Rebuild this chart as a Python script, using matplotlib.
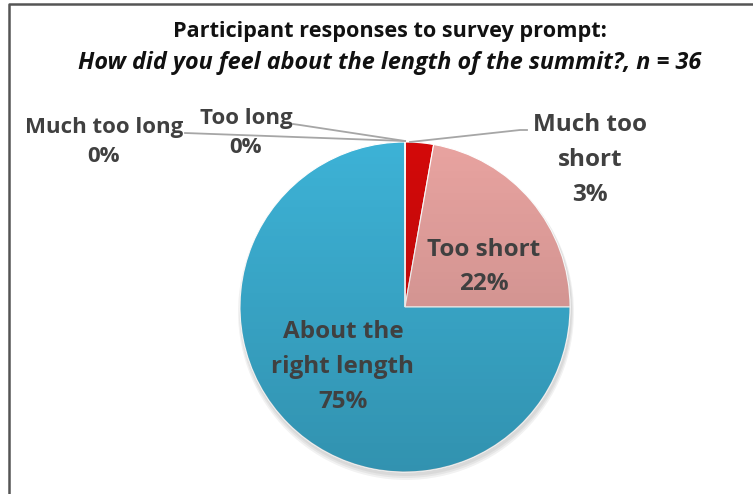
import matplotlib.pyplot as plt
import numpy as np
from matplotlib.patches import Circle

# survey counts, clockwise from 12 o'clock
categories = ["Much too short", "Too short", "About the right length", "Too long", "Much too long"]
counts = [1, 8, 27, 0, 0]
colors = ["#d30a0a", "#e8a3a0", "#3db2d6", "#3db2d6", "#3db2d6"]
n_total = sum(counts)
percents = [int(round(100 * c / n_total)) for c in counts]

W, H = 753, 494
plt.rcParams['font.family'] = ['Open Sans', 'DejaVu Sans']

fig = plt.figure(figsize=(W / 100, H / 100), dpi=100)
ax = fig.add_axes([0, 0, 1, 1])


def py(y):
    # pixel row (top down) -> data y
    return H - y


cx, cy, r = 405, py(307), 165

# soft shadow under the pie
for k in range(3):
    ax.add_patch(Circle((cx + 1, cy - 3 - k), r + 1 + k, color="black", alpha=0.05, lw=0, zorder=1))

wedges, _ = ax.pie(counts, colors=colors, startangle=90, counterclock=False,
                   center=(cx, cy), radius=r, frame=True,
                   wedgeprops=dict(linewidth=0.8, edgecolor="#ffffff"))
for w in wedges:
    w.set_zorder(2)

# darken towards the bottom of the pie
grad = np.linspace(0, 1, 256)[:, None]
shade = np.zeros((256, 1, 4))
shade[..., 3] = 0.18 * grad
im = ax.imshow(shade, extent=(cx - r, cx + r, cy - r, cy + r), origin='upper',
               aspect='auto', zorder=3)
im.set_clip_path(Circle((cx, cy), r, transform=ax.transData))

ax.set_xlim(0, W)
ax.set_ylim(0, H)
ax.set_aspect('equal')
ax.axis('off')

txt = "#404040"
ax.text(390, py(31), "Participant responses to survey prompt:", ha='center', va='center',
        fontsize=15.6, fontweight='bold', color="#111111")
ax.text(390, py(63), "How did you feel about the length of the summit?, n = %d" % n_total,
        ha='center', va='center', fontsize=16.8, fontweight='bold', style='italic', color="#111111")

# data labels
big = 17.5
small = 16
ax.text(590, py(160), "Much too\nshort\n%d%%" % percents[0], ha='center', va='center',
        fontsize=big, fontweight='bold', color=txt, linespacing=1.6, zorder=5)
ax.text(484, py(267), "Too short\n%d%%" % percents[1], ha='center', va='center',
        fontsize=big, fontweight='bold', color=txt, linespacing=1.6, zorder=5)
ax.text(343, py(367), "About the\nright length\n%d%%" % percents[2], ha='center', va='center',
        fontsize=big, fontweight='bold', color=txt, linespacing=1.6, zorder=5)
ax.text(246, py(133), "Too long\n%d%%" % percents[3], ha='center', va='center',
        fontsize=small, fontweight='bold', color=txt, linespacing=1.5, zorder=5)
ax.text(104, py(142), "Much too long\n%d%%" % percents[4], ha='center', va='center',
        fontsize=small, fontweight='bold', color=txt, linespacing=1.5, zorder=5)

# leader lines
lc = "#a6a6a6"
ax.plot([185, 405], [py(133), py(141)], color=lc, lw=1.3, zorder=4)
ax.plot([293, 300, 405], [py(124), py(125), py(141)], color=lc, lw=1.3, zorder=4)
ax.plot([527, 520, 410], [py(130), py(130), py(142)], color=lc, lw=1.3, zorder=4)

# frame
ax.plot([9.5, 9.5, W], [0, py(3.5), py(3.5)], color="#555555", lw=1.8, zorder=6)

fig.savefig("out.png", dpi=100)
